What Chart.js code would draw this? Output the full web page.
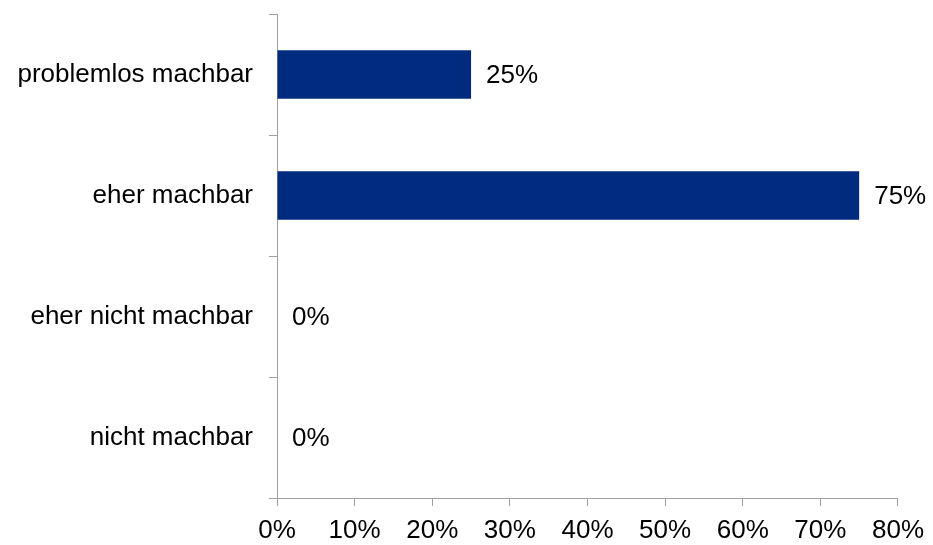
<!DOCTYPE html>
<html>
<head>
<meta charset="utf-8">
<script src="https://cdn.jsdelivr.net/npm/chart.js@4.4.1/dist/chart.umd.min.js"></script>
<style>
  html, body { margin: 0; padding: 0; background: #fff; }
  #wrap { width: 933px; height: 545px; }
</style>
</head>
<body>
<div id="wrap"><canvas id="chart" width="933" height="545"></canvas></div>
<script>
// answer categories and share of responses (%)
const categories = ['problemlos machbar', 'eher machbar', 'eher nicht machbar', 'nicht machbar'];
const shares = [25, 75, 0, 0];
const xTicks = [0, 10, 20, 30, 40, 50, 60, 70, 80];

const axisColor = '#a0a0a0';
const barColor = '#002b7f';
const font = { family: 'Arial, "Liberation Sans", sans-serif', size: 26 };

// value labels printed just past the end of each bar
const valueLabels = {
  id: 'valueLabels',
  afterDatasetsDraw(chart) {
    const ctx = chart.ctx;
    const meta = chart.getDatasetMeta(0);
    ctx.save();
    ctx.font = font.size + 'px ' + font.family;
    ctx.fillStyle = '#000';
    ctx.textAlign = 'left';
    ctx.textBaseline = 'middle';
    meta.data.forEach((bar, i) => {
      ctx.fillText(shares[i] + '%', bar.x + 15, bar.y + 1);
    });
    ctx.restore();
  }
};

new Chart(document.getElementById('chart'), {
  type: 'bar',
  data: {
    labels: categories,
    datasets: [{
      data: shares,
      backgroundColor: barColor,
      borderWidth: 0,
      barPercentage: 0.4,
      categoryPercentage: 1
    }]
  },
  options: {
    indexAxis: 'y',
    responsive: false,
    animation: false,
    layout: { padding: { top: 14, right: 33, left: 0, bottom: 0 } },
    plugins: {
      legend: { display: false },
      tooltip: { enabled: false }
    },
    scales: {
      x: {
        min: 0,
        max: 80,
        afterBuildTicks: (scale) => { scale.ticks = xTicks.map(v => ({ value: v })); },
        afterFit: (scale) => { scale.height = 47; },
        ticks: {
          color: '#000',
          font: font,
          padding: 9,
          maxRotation: 0,
          callback: (v) => v + '%'
        },
        grid: { drawOnChartArea: false, drawTicks: true, tickLength: 8, color: axisColor },
        border: { color: axisColor, width: 1 }
      },
      y: {
        afterFit: (scale) => {
          scale.width = 277;
          scale.paddingTop = 0;
          scale.paddingBottom = 0;
        },
        ticks: { color: '#000', font: font, padding: 16 },
        grid: { drawOnChartArea: false, drawTicks: true, tickLength: 8, color: axisColor, offset: true },
        border: { color: axisColor, width: 1 }
      }
    }
  },
  plugins: [valueLabels]
});
</script>
</body>
</html>
